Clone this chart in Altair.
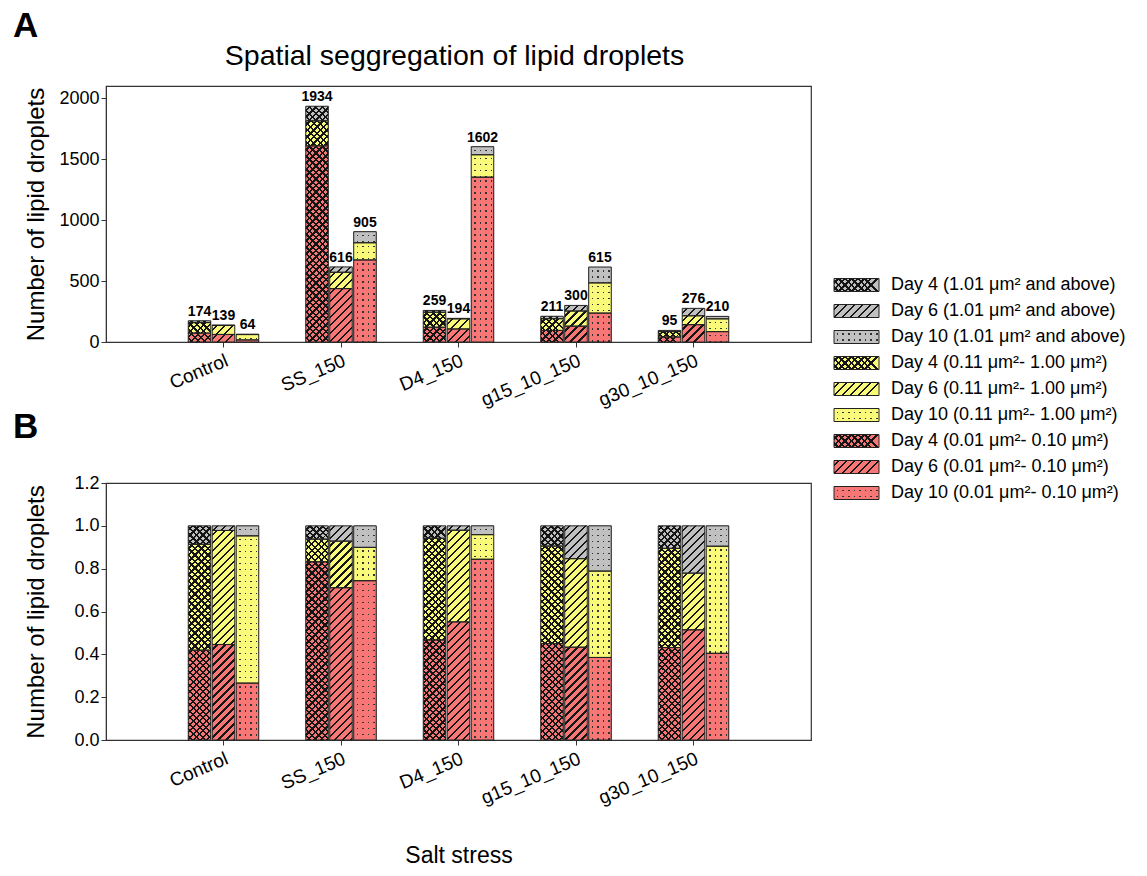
import altair as alt
import pandas as pd

# ---------------- data ----------------
categories = ["Control", "SS_150", "D4_150", "g15_10_150", "g30_10_150"]
days = ["Day 4", "Day 6", "Day 10"]
size_classes = ["(1.01 μm² and above)", "(0.11 μm²- 1.00 μm²)", "(0.01 μm²- 0.10 μm²)"]

# counts per category (rows) and day (columns)
large_counts = [[15, 3, 3], [120, 44, 91], [15, 4, 66], [20, 46, 130], [10, 61, 20]]
mid_counts = [[86, 74, 44], [205, 134, 141], [123, 83, 184], [96, 124, 248], [44, 73, 105]]
small_counts = [[73, 62, 17], [1609, 438, 673], [121, 107, 1352], [95, 130, 237], [41, 142, 85]]

# base colour of each size class (large, mid, small)
class_colors = ["#C0C0C0", "#F9F97A", "#F77676"]

FONT = "Liberation Sans"
W_A, H_A, W_B, H_B = 705, 256, 705, 257
YMAX_A, YMAX_B = 2100, 1.2

rows = []
sid = 0
for ci, cat in enumerate(categories):
    for di, day in enumerate(days):
        total = large_counts[ci][di] + mid_counts[ci][di] + small_counts[ci][di]
        for si, (sc, arr) in enumerate(zip(size_classes, [large_counts, mid_counts, small_counts])):
            rows.append({
                "sid": sid, "group": cat, "day": day, "di": di, "cls": si,
                "key": f"{day} {sc}", "count": arr[ci][di], "frac": arr[ci][di] / total,
                "stackorder": 2 - si,
            })
            sid += 1
df = pd.DataFrame(rows)

legend_rows = [{"key": f"{d} {sc}", "cls": si, "di": di}
               for si, sc in enumerate(size_classes) for di, d in enumerate(days)]
legend_df = pd.DataFrame(legend_rows)
legend_keys = list(legend_df["key"])

# ---------------- hatch patterns as gradient fills ----------------
BAR_W = (W_A / (5 - 0.4 + 1.4)) * 0.6 / (3 - 0.06) * 0.94  # bar width in px
SW_W, SW_H = 45, 13                                          # legend swatch size
CLEAR = "rgba(0,0,0,0)"
INK = "#151515"


def stripes(w, h, kind, period, line, ink, bg):
    if kind == "diag":      # '/' lines
        g = {"x1": 0, "y1": 0, "x2": 1, "y2": h / w}
        span, per_t = w + h, (w * w + h * h) / w
    elif kind == "anti":    # '\' lines
        g = {"x1": 0, "y1": 1, "x2": 1, "y2": 1 - h / w}
        span, per_t = w + h, (w * w + h * h) / w
    elif kind == "rows":
        g = {"x1": 0, "y1": 0, "x2": 0, "y2": 1}
        span, per_t = h, h
    else:                   # cols
        g = {"x1": 0, "y1": 0, "x2": 1, "y2": 0}
        span, per_t = w, w
    stops = []
    s = period / 2
    while s < span:
        a, b = s / per_t, min((s + line) / per_t, 1)
        if a >= 1:
            break
        stops += [{"offset": a, "color": bg}, {"offset": a, "color": ink},
                  {"offset": b, "color": ink}, {"offset": b, "color": bg}]
        s += period
    if not stops:
        return bg
    stops = [{"offset": 0, "color": bg}] + stops + [{"offset": 1, "color": bg}]
    g.update({"gradient": "linear", "stops": stops})
    return g


def pattern_fills(items):
    """items: (test, cls, day index, width px, height px)"""
    base, over1, over2 = [], [], []
    for test, cls, di, w, h in items:
        col = class_colors[cls]
        if h < 1.5:
            base.append({"test": test, "value": col})
            continue
        if di == 0:      # Day 4: cross-hatch
            base.append({"test": test, "value": col})
            over1.append({"test": test, "value": stripes(w, h, "diag", 6.5, 2.3, INK, CLEAR)})
            over2.append({"test": test, "value": stripes(w, h, "anti", 6.5, 2.3, INK, CLEAR)})
        elif di == 1:    # Day 6: diagonal
            base.append({"test": test, "value": col})
            over1.append({"test": test, "value": stripes(w, h, "diag", 8.0, 2.3, INK, CLEAR)})
        else:            # Day 10: dots (dark under-layer showing through row x column gaps)
            base.append({"test": test, "value": "#333333"})
            over1.append({"test": test, "value": stripes(w, h, "rows", 6.0, 1.6, CLEAR, col)})
            over2.append({"test": test, "value": stripes(w, h, "cols", 5.6, 1.6, CLEAR, col)})
    return base, over1, over2


def pattern_layers(src, mark, common, fills):
    out = []
    for conds in fills:
        out.append(getattr(src, mark)(strokeWidth=0).encode(
            fill={"condition": conds, "value": CLEAR}, **common))
    out.append(getattr(src, mark)(fill=CLEAR, stroke="#222", strokeWidth=1).encode(**common))
    return out


def x_enc(title, extra=None):
    ax = dict(labelAngle=-23, labelFontSize=19, tickSize=5, labelPadding=4)
    if extra:
        ax.update(extra)
    return alt.X("group:N", sort=categories, title=title,
                 scale=alt.Scale(paddingInner=0.4, paddingOuter=0.7), axis=alt.Axis(**ax))


xoff = alt.XOffset("day:N", sort=days, scale=alt.Scale(paddingInner=0.06, paddingOuter=0))
y_axis_common = dict(tickSize=5, labelFontSize=18, titleFontSize=24, titleFontWeight="normal",
                     minExtent=52, maxExtent=52, titlePadding=6, grid=False)


def bar_layers(xe, ye, px_per_unit, value_field):
    items = [(f"datum.sid === {r['sid']}", r["cls"], r["di"], BAR_W, r[value_field] * px_per_unit)
             for r in rows]
    common = dict(x=xe, xOffset=xoff, y=ye, order=alt.Order("stackorder:Q"))
    return pattern_layers(alt.Chart(df), "mark_bar", common, pattern_fills(items))


# ---------------- panel A ----------------
y_a = alt.Y("count:Q", stack="zero", title="Number of lipid droplets",
            scale=alt.Scale(domain=[0, YMAX_A], nice=False),
            axis=alt.Axis(values=[0, 500, 1000, 1500, 2000], format="d", **y_axis_common))
xa = x_enc(None)

totals_a = alt.Chart(df).transform_aggregate(
    total="sum(count)", groupby=["group", "day"]
).mark_text(dy=-9, fontSize=14, fontWeight="bold", font=FONT, color="black").encode(
    x=alt.X("group:N", sort=categories), xOffset=alt.XOffset("day:N", sort=days),
    y=alt.Y("total:Q"), text=alt.Text("total:Q"),
)
letter_a = alt.Chart(pd.DataFrame({"t": ["A"]})).mark_text(
    fontSize=35, fontWeight="bold", font=FONT, align="left", baseline="alphabetic", color="black"
).encode(x=alt.value(-93), y=alt.value(-49), text="t:N")
title_a = alt.Chart(pd.DataFrame({"t": ["Spatial seggregation of lipid droplets"]})).mark_text(
    fontSize=28.5, font=FONT, align="center", baseline="alphabetic", color="black"
).encode(x=alt.value(W_A / 2 - 4), y=alt.value(-21), text="t:N")

panel_a = alt.layer(
    *bar_layers(xa, y_a, H_A / YMAX_A, "count"), totals_a, letter_a, title_a
).properties(width=W_A, height=H_A)

# ---------------- panel B ----------------
y_b = alt.Y("count:Q", stack="normalize", title="Number of lipid droplets",
            scale=alt.Scale(domain=[0, YMAX_B], nice=False),
            axis=alt.Axis(values=[0, 0.2, 0.4, 0.6, 0.8, 1.0, 1.2],
                          labelExpr="format(datum.value, '.1f')", **y_axis_common))
xb = x_enc("Salt stress", dict(titleFontSize=23, titleFontWeight="normal", titlePadding=37))
letter_b = alt.Chart(pd.DataFrame({"t": ["B"]})).mark_text(
    fontSize=35, fontWeight="bold", font=FONT, align="left", baseline="alphabetic", color="black"
).encode(x=alt.value(-93), y=alt.value(-45), text="t:N")

panel_b = alt.layer(*bar_layers(xb, y_b, H_B / YMAX_B, "frac"), letter_b).properties(
    width=W_B, height=H_B)

# ---------------- legend (patterned swatches) ----------------
y_leg = alt.Y("key:N", sort=legend_keys, axis=None,
              scale=alt.Scale(domain=legend_keys, range=[186, 420], paddingInner=0.5, paddingOuter=0.25))
leg_items = [(f"datum.key === '{r['key']}'", r["cls"], r["di"], SW_W, SW_H) for r in legend_rows]
leg_common = dict(x=alt.value(0), x2=alt.value(SW_W), y=y_leg)
leg_swatches = pattern_layers(alt.Chart(legend_df), "mark_rect", leg_common, pattern_fills(leg_items))
leg_text = alt.Chart(legend_df).mark_text(
    align="left", baseline="middle", fontSize=18, font=FONT, color="black"
).encode(x=alt.value(SW_W + 12), y=y_leg, text="key:N")
legend_chart = alt.layer(*leg_swatches, leg_text).properties(
    width=300, height=H_A, view=alt.ViewBackground(stroke="transparent"))

chart = alt.hconcat(
    alt.vconcat(panel_a, panel_b, spacing=141, bounds="flush"),
    legend_chart, spacing=728, bounds="flush",
).properties(
    padding={"left": 12, "top": 8, "right": 5, "bottom": 5},
).configure(
    font=FONT,
).configure_view(
    stroke="#333", strokeWidth=1.2,
).configure_axis(
    domainColor="#333", tickColor="#333", labelColor="black", titleColor="black",
    labelFont=FONT, titleFont=FONT,
)

chart.save("out.html", embed_options={"renderer": "svg", "actions": False})
